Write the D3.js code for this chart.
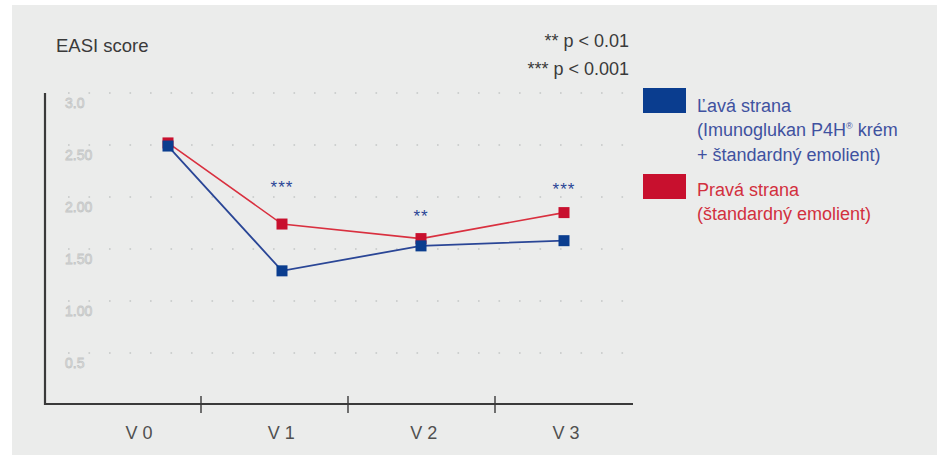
<!DOCTYPE html>
<html>
<head>
<meta charset="utf-8">
<script src="https://cdn.jsdelivr.net/npm/d3@7"></script>
<style>
  html, body { margin: 0; padding: 0; background: #ffffff; }
  svg { display: block; }
</style>
</head>
<body>
<svg id="chart" width="939" height="455"></svg>
<script>
// ---- Data ----
const categories = ["V 0", "V 1", "V 2", "V 3"];
const leftSide  = [2.49, 1.29, 1.53, 1.58];   // Ľavá strana
const rightSide = [2.52, 1.74, 1.60, 1.85];   // Pravá strana
const significance = ["", "***", "**", "***"];
const yTicks = [0.5, 1.0, 1.5, 2.0, 2.5, 3.0];
const yTickLabels = ["0.5", "1.00", "1.50", "2.00", "2.50", "3.0"];

// ---- Layout ----
const font = "Liberation Sans, Arial, sans-serif";
const svg = d3.select("#chart");
svg.append("rect").attr("x", 12).attr("y", 5).attr("width", 925).attr("height", 450).attr("fill", "#ebeceb");

const plotLeft = 45, plotRight = 633, plotTop = 93, plotBottom = 404;

const y = d3.scaleLinear().domain([0, 3]).range([405, 93]);
const xBand = d3.scaleBand().domain(categories).range([54, 642]).padding(0);
const xLabel = d3.scalePoint().domain(categories).range([139, 566]);
const xPt = d3.scaleLinear().domain([0, 1, 2, 3]).range([168, 282, 421, 564]);

// gridlines (dotted)
svg.append("g").selectAll("line").data(yTicks).join("line")
  .attr("x1", 68).attr("x2", 632)
  .attr("y1", d => y(d)).attr("y2", d => y(d))
  .attr("stroke", "#c4c6c6").attr("stroke-width", 1.6)
  .attr("stroke-dasharray", "1.6 18.9");

// y tick labels (outlined look)
svg.append("g").selectAll("text").data(yTicks).join("text")
  .attr("x", 65).attr("y", d => y(d) + 15)
  .attr("font-family", font)
  .attr("font-size", 14)
  .attr("fill", "#ebeceb")
  .attr("stroke", "#c4c6c6").attr("stroke-width", 0.8)
  .text((d, i) => yTickLabels[i]);

// axes
svg.append("line").attr("x1", plotLeft).attr("x2", plotLeft).attr("y1", plotTop).attr("y2", plotBottom + 1)
  .attr("stroke", "#3a3a3a").attr("stroke-width", 2.2);
svg.append("line").attr("x1", plotLeft - 1).attr("x2", plotRight).attr("y1", plotBottom).attr("y2", plotBottom)
  .attr("stroke", "#3a3a3a").attr("stroke-width", 2.2);
svg.append("g").selectAll("line").data(categories.slice(1)).join("line")
  .attr("x1", d => xBand(d)).attr("x2", d => xBand(d))
  .attr("y1", plotBottom - 8).attr("y2", plotBottom + 9)
  .attr("stroke", "#3a3a3a").attr("stroke-width", 1.4);
svg.append("g").selectAll("text").data(categories).join("text")
  .attr("x", d => xLabel(d)).attr("y", 439)
  .attr("text-anchor", "middle")
  .attr("font-family", font).attr("font-size", 18).attr("fill", "#505050")
  .text(d => d);

// lines
const blue = "#0a3d8f", red = "#c8102e";
const line = d3.line().x((d, i) => xPt(i)).y(d => y(d));
svg.append("path").datum(rightSide).attr("d", line).attr("fill", "none").attr("stroke", "#d9303f").attr("stroke-width", 1.6);
svg.append("path").datum(leftSide).attr("d", line).attr("fill", "none").attr("stroke", "#2a4696").attr("stroke-width", 1.8);

const ms = 11;
svg.append("g").selectAll("rect").data(rightSide).join("rect")
  .attr("x", (d, i) => xPt(i) - ms / 2).attr("y", d => y(d) - ms / 2)
  .attr("width", ms).attr("height", ms).attr("fill", red);
svg.append("g").selectAll("rect").data(leftSide).join("rect")
  .attr("x", (d, i) => xPt(i) - ms / 2).attr("y", d => y(d) - ms / 2)
  .attr("width", ms).attr("height", ms).attr("fill", blue);

// significance stars
const starOffset = [0, 31, 17, 18];
svg.append("g").selectAll("text").data(significance).join("text")
  .attr("x", (d, i) => xPt(i))
  .attr("y", (d, i) => y(Math.max(leftSide[i], rightSide[i])) - starOffset[i])
  .attr("text-anchor", "middle")
  .attr("font-family", font)
  .attr("font-size", 17).attr("fill", "#2a4696").attr("letter-spacing", 1)
  .text(d => d);

// title & notes
svg.append("text").attr("x", 56).attr("y", 52).attr("font-family", font).attr("font-size", 18.5)
  .attr("fill", "#3a3a3a").text("EASI score");
svg.append("text").attr("x", 629).attr("y", 47).attr("text-anchor", "end").attr("font-family", font)
  .attr("font-size", 18).attr("fill", "#3a3a3a").text("** p < 0.01");
svg.append("text").attr("x", 629).attr("y", 75).attr("text-anchor", "end").attr("font-family", font)
  .attr("font-size", 18).attr("fill", "#3a3a3a").text("*** p < 0.001");

// legend
const lg = svg.append("g");
lg.append("rect").attr("x", 643).attr("y", 88).attr("width", 43).attr("height", 25).attr("fill", blue);
lg.append("rect").attr("x", 643).attr("y", 174).attr("width", 43).attr("height", 25).attr("fill", red);
const blueText = lg.append("text").attr("font-family", font).attr("font-size", 18).attr("fill", "#3f52a0");
blueText.append("tspan").attr("x", 697).attr("y", 112).text("Ľavá strana");
const t2 = blueText.append("tspan").attr("x", 697).attr("y", 136).text("(Imunoglukan P4H");
t2.append("tspan").attr("font-size", 9).attr("dy", -7).text("®");
blueText.append("tspan").attr("dy", 7).attr("font-size", 18).text(" krém");
blueText.append("tspan").attr("x", 697).attr("y", 161).text("+ štandardný emolient)");
const redText = lg.append("text").attr("font-family", font).attr("font-size", 18).attr("fill", "#d2303e");
redText.append("tspan").attr("x", 697).attr("y", 196).text("Pravá strana");
redText.append("tspan").attr("x", 697).attr("y", 220).text("(štandardný emolient)");
</script>
</body>
</html>
